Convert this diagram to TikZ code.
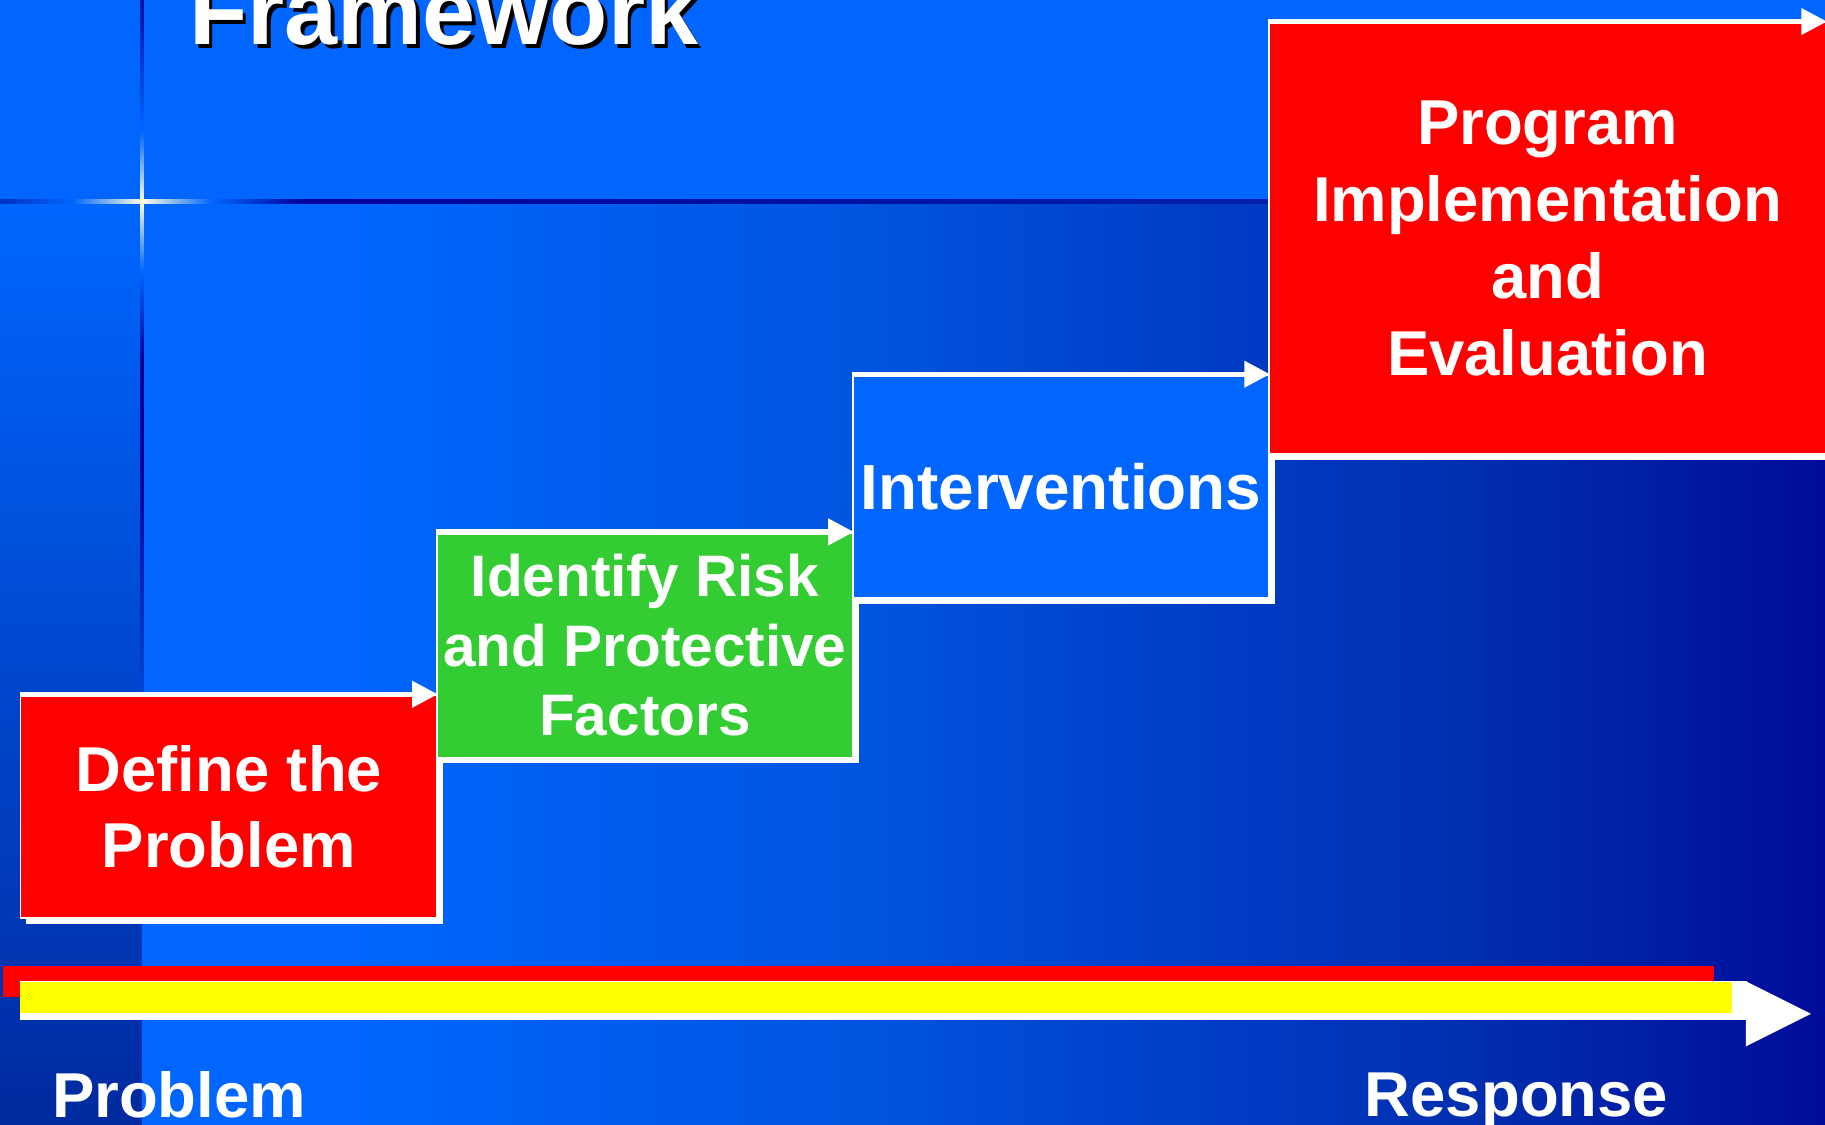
\documentclass[tikz,border=0pt]{standalone}
\usepackage{fontspec}
\setmainfont{Liberation Sans}
\usetikzlibrary{arrows.meta, shadows}
\definecolor{ppblue}{HTML}{0066FF}
\definecolor{ppred}{HTML}{FF0000}
\definecolor{ppgreen}{HTML}{33CC33}
\definecolor{ppyellow}{HTML}{FFFF00}
\definecolor{bgA}{HTML}{0055E0}
\definecolor{bgB}{HTML}{0038C0}
\definecolor{bgC}{HTML}{0030B0}
\definecolor{bgD}{HTML}{000C99}
\definecolor{stripbot}{HTML}{002A9F}
\definecolor{stripmid}{HTML}{0048D8}
\definecolor{ruledark}{HTML}{00009A}
\definecolor{ruleend}{HTML}{0020AA}
\definecolor{ruletop}{HTML}{0010A8}
\definecolor{ruleleft}{HTML}{0030C0}
\definecolor{glint}{HTML}{FFFFE0}
\pgfdeclarehorizontalshading{mainfade}{100bp}{color(0bp)=(ppblue); color(31bp)=(ppblue);
    color(46bp)=(bgA); color(59bp)=(bgB); color(64bp)=(bgC); color(75bp)=(bgD); color(100bp)=(bgD)}
\tikzset{
    stepbox/.style={rectangle, draw=white, line width=0.4pt, inner sep=0pt, anchor=north west,
        text=white, align=center,
        drop shadow={fill=white, opacity=1, shadow xshift=0.05cm, shadow yshift=-0.05cm}},
    steparrow/.style={draw=white, line width=1.3pt, -{Triangle[length=0.22cm, width=0.22cm]}},
    titletext/.style={anchor=base west, inner sep=0pt, font=\fontsize{23.3}{28}\selectfont\bfseries},
    axislabel/.style={anchor=base west, inner sep=0pt, text=white, font=\fontsize{15.5}{18}\selectfont\bfseries}
}
\begin{document}
\begin{tikzpicture}[x=0.01cm, y=-0.01cm]
    \useasboundingbox (0,0) rectangle (1568,966);
    \clip (0,0) rectangle (1568,966);
    % background
    \fill[ppblue] (0,0) rectangle (1568,174);
    \shade[top color=ppblue, bottom color=stripbot] (0,173) rectangle (122,966);
    \shade[shading=mainfade] (122,173) rectangle (1568,966);
    % vertical rule
    \shade[top color=ruletop, bottom color=ppblue] (120.3,0) rectangle (123.7,113);
    \shade[top color=ppblue, bottom color=glint] (120.3,113) rectangle (123.7,173);
    \shade[top color=glint, bottom color=ppblue] (120.3,173) rectangle (123.7,233);
    \shade[top color=ppblue, bottom color=ruledark] (120.3,233) rectangle (123.7,310);
    \fill[ruledark] (120.3,310) rectangle (123.7,400);
    \shade[top color=ruledark, bottom color=stripmid] (120.3,400) rectangle (123.7,600);
    % horizontal rule
    \shade[left color=ruleleft, right color=ppblue] (0,171.3) rectangle (62,174.7);
    \shade[left color=ppblue, right color=glint] (62,171.3) rectangle (122,174.7);
    \shade[left color=glint, right color=ppblue] (122,171.3) rectangle (182,174.7);
    \shade[left color=ppblue, right color=ruledark] (182,171.3) rectangle (260,174.7);
    \shade[left color=ruledark, right color=ruleend] (260,171.3) rectangle (1092,174.7);
    % title
    \node[titletext, text=black] (frameshadow) at (165,41.5) {Framework};
    \node[titletext, text=white] (frame) at (162,38.5) {Framework};
    % steps
    \node[stepbox, fill=ppred, minimum width=3.575cm, minimum height=1.915cm,
        font=\fontsize{15.5}{18.5}\selectfont\bfseries] (def) at (17,596.5) {Define the\\Problem};
    \node[stepbox, fill=ppgreen, minimum width=3.575cm, minimum height=1.93cm,
        font=\fontsize{14.3}{17}\selectfont\bfseries] (risk) at (374.5,457) {Identify Risk\\and Protective\\Factors};
    \node[stepbox, fill=ppblue, minimum width=3.575cm, minimum height=1.915cm,
        font=\fontsize{15.6}{18.5}\selectfont\bfseries] (intv) at (732,321.5) {Interventions};
    \node[stepbox, fill=ppred, minimum width=4.785cm, minimum height=3.705cm,
        font=\fontsize{15.5}{18.8}\selectfont\bfseries] (prog) at (1089.5,18.5) {Program\\Implementation\\and\\Evaluation};
    \draw[steparrow] (def.north west) -- (def.north east);
    \draw[steparrow] (risk.north west) -- (risk.north east);
    \draw[steparrow] (intv.north west) -- (intv.north east);
    \draw[steparrow] (prog.north west) -- (prog.north east);
    % problem to response
    \coordinate (axstart) at (17,876.5);
    \coordinate (axtip) at (1556,871);
    \fill[ppred] (3,829.7) rectangle (1473,857);
    \fill[white] (17,842.6) rectangle (1501,876.5);
    \fill[white] (1500,843) -- (axtip) -- (1500,899) -- cycle;
    \fill[ppyellow] (17,844) rectangle (1488,870);
    \node[axislabel] (lprob) at (44,960) {Problem};
    \node[axislabel] (lresp) at (1172,959) {Response};
\end{tikzpicture}
\end{document}
